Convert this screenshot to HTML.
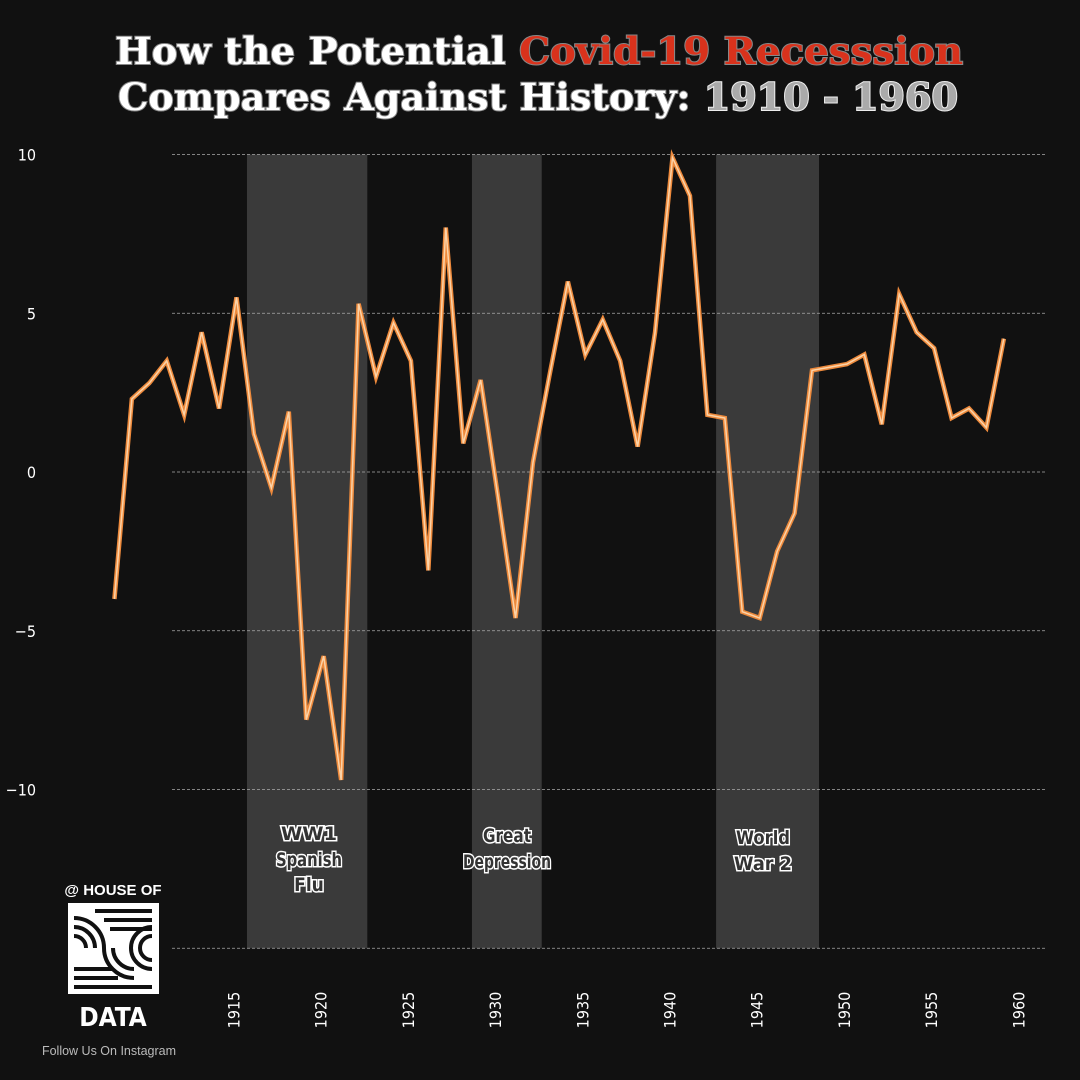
<!DOCTYPE html>
<html><head><meta charset="utf-8"><style>
html,body{margin:0;padding:0;background:#111;}
svg{display:block;}
</style></head><body>
<svg width="1080" height="1080" viewBox="0 0 1080 1080" xmlns="http://www.w3.org/2000/svg">
<rect width="1080" height="1080" fill="#111"/>
<g font-family="'DejaVu Serif','Liberation Serif',serif" font-weight="bold" font-size="37" stroke-width="2" paint-order="stroke">
<text x="115" y="64" textLength="848" lengthAdjust="spacingAndGlyphs" stroke="#888"><tspan fill="#fff">How the Potential </tspan><tspan fill="#d9321c">Covid-19 Recesssion</tspan></text>
<text x="118" y="110" textLength="840" lengthAdjust="spacingAndGlyphs" stroke="#888"><tspan fill="#fff">Compares Against History: </tspan><tspan fill="#aaa" stroke="#eee">1910 - 1960</tspan></text>
</g>
<g id="bands"></g>
<g id="grid"></g>
<g id="xt"></g>
<g id="line"></g>
<g font-family="'DejaVu Sans Condensed','Liberation Sans Narrow',sans-serif" font-weight="bold" font-size="19" fill="#333" stroke="#fff" stroke-width="3" paint-order="stroke" text-anchor="middle">
<text x="309" y="840" textLength="56" lengthAdjust="spacingAndGlyphs">WW1</text>
<text x="309" y="866" textLength="66" lengthAdjust="spacingAndGlyphs">Spanish</text>
<text x="309" y="891">Flu</text>
<text x="507" y="842" textLength="48" lengthAdjust="spacingAndGlyphs">Great</text>
<text x="507" y="868" textLength="88" lengthAdjust="spacingAndGlyphs">Depression</text>
<text x="763" y="844" textLength="54" lengthAdjust="spacingAndGlyphs">World</text>
<text x="763" y="870" textLength="58" lengthAdjust="spacingAndGlyphs">War 2</text>
</g>
<g font-family="'Liberation Sans',sans-serif">
<text x="113" y="895" fill="#fff" font-size="15" font-weight="bold" text-anchor="middle">@ HOUSE OF</text>
<rect x="68" y="903" width="91" height="91" fill="#fff"/>
<g stroke="#111" stroke-width="4" fill="none">
<line x1="95" y1="911" x2="152" y2="911"/><line x1="104" y1="920" x2="152" y2="920"/><line x1="110" y1="929" x2="152" y2="929"/>
<path d="M74 918 A30 30 0 0 1 104 948"/><path d="M74 927 A21 21 0 0 1 95 948"/><path d="M74 936 A12 12 0 0 1 86 948"/>
<path d="M104 948 A30 30 0 0 0 134 978"/><path d="M113 948 A21 21 0 0 0 134 969"/>
<path d="M152 936 A12 12 0 0 0 140 948 A12 12 0 0 0 152 960"/><path d="M152 927 A21 21 0 0 0 131 948 A21 21 0 0 0 152 969"/>
<line x1="74" y1="969" x2="112" y2="969"/><line x1="74" y1="978" x2="118" y2="978"/><line x1="74" y1="987" x2="152" y2="987"/>
</g>
<text x="113" y="1026" fill="#fff" font-size="26" font-weight="bold" text-anchor="middle" font-family="'DejaVu Sans Condensed','Liberation Sans Narrow',sans-serif">DATA</text>
<text x="109" y="1055" fill="#bbb" font-size="12.5" text-anchor="middle">Follow Us On Instagram</text>
</g>
</svg>
<script>
const years=[1908,1909,1910,1911,1912,1913,1914,1915,1916,1917,1918,1919,1920,1921,1922,1923,1924,1925,1926,1927,1928,1929,1930,1931,1932,1933,1934,1935,1936,1937,1938,1939,1940,1941,1942,1943,1944,1945,1946,1947,1948,1949,1950,1951,1952,1953,1954,1955,1956,1957,1958,1959];
const growth=[-4.0,2.3,2.8,3.5,1.8,4.4,2.0,5.5,1.2,-0.5,1.9,-7.8,-5.8,-9.7,5.3,3.0,4.7,3.5,-3.1,7.7,0.9,2.9,-0.8,-4.6,0.3,3.2,6.0,3.7,4.8,3.5,0.8,4.4,9.9,8.7,1.8,1.7,-4.4,-4.6,-2.5,-1.3,3.2,3.3,3.4,3.7,1.5,5.6,4.4,3.9,1.7,2.0,1.4,4.2];
const yTicks=[10,5,0,-5,-10,-15];
const yTickLabels=["10","5","0","\u22125","\u221210",""];
const xTicks=[1915,1920,1925,1930,1935,1940,1945,1950,1955,1960];
const bandStart=[1915.6,1928.5,1942.5];
const bandEnd=[1922.5,1932.5,1948.4];
const NS="http://www.w3.org/2000/svg";
const X=y=>236.5+(y-1915)*17.44;
const Y=v=>472-v*31.75;
function mk(tag,attrs,parent){const e=document.createElementNS(NS,tag);for(const k in attrs)e.setAttribute(k,attrs[k]);parent.appendChild(e);return e;}
const bands=document.getElementById('bands');
bandStart.forEach((s,i)=>{
 const r=mk('rect',{x:X(s),y:Y(10),width:X(bandEnd[i])-X(s),height:Y(-15)-Y(10),fill:'#3a3a3a'},bands);
 
 
});
const grid=document.getElementById('grid');
yTicks.forEach((v,i)=>{
 const l=mk('line',{x1:172,x2:1045,y1:Y(v),y2:Y(v),stroke:'#aaa','stroke-width':0.8,'stroke-dasharray':'3,2'},grid);
 
 
 const t=mk('text',{x:36,y:Y(v)+6,'text-anchor':'end',fill:'#fff','font-size':16,'font-family':"'DejaVu Sans Condensed','Liberation Sans Narrow',sans-serif"},grid);
 t.textContent=yTickLabels[i];
 
 
});
const xt=document.getElementById('xt');
xTicks.forEach(y=>{
 const x=X(y)+3;
 const t=mk('text',{x:x,y:1010,transform:`rotate(-90 ${x} 1010)`,'text-anchor':'middle',fill:'#fff','font-size':16,'font-family':"'DejaVu Sans Condensed','Liberation Sans Narrow',sans-serif"},xt);
 t.textContent=String(y);
 
 
});
const pts=years.map((y,i)=>X(y)+','+Y(growth[i])).join(' ');
const lg=document.getElementById('line');
const p1=mk('polyline',{points:pts,fill:'none',stroke:'#ee8a3c','stroke-width':4.5,'stroke-linejoin':'miter'},lg);


const p2=mk('polyline',{points:pts,fill:'none',stroke:'#fbd3a8','stroke-width':1.5},lg);


</script>
</body></html>
